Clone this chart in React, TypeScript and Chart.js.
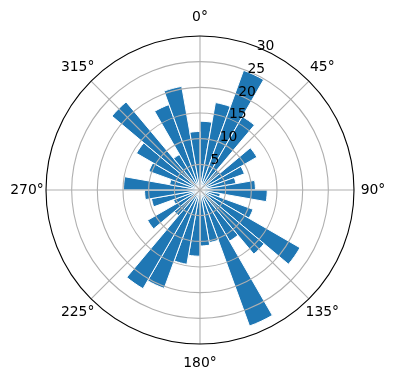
import React, { useEffect, useRef } from "react";
import { Chart, registerables } from "chart.js";

Chart.register(...registerables);

// Bar centre directions (degrees, clockwise from north)
const directions = [
  5, 15, 25, 35, 45, 55, 65, 75, 85,
  95, 105, 115, 125, 135, 145, 155, 165, 175,
  185, 195, 205, 215, 225, 235, 245, 255, 265,
  275, 285, 295, 305, 315, 325, 335, 345, 355,
];
// Bar lengths
const counts = [
  13.4, 17.3, 24.8, 16.5, 5.0, 12.8, 9.2, 7.1, 10.8,
  13.1, 4.0, 11.0, 22.5, 16.3, 11.5, 28.2, 10.4, 10.9,
  12.9, 14.7, 20.4, 22.2, 6.5, 11.8, 5.5, 9.6, 10.8,
  14.9, 6.0, 10.6, 14.3, 22.4, 8.0, 17.7, 20.5, 11.4,
];
const radialTicks = [5, 10, 15, 20, 25, 30];
const angleTickDegrees = [0, 45, 90, 135, 180, 225, 270, 315];
const angleTickLabels = ["0°", "45°", "90°", "135°", "180°", "225°", "270°", "315°"];
const radialLabelAngle = 22.5;

const FONT = '13.9px "DejaVu Sans"';

const polarDecor = {
  id: "polarDecor",
  afterDatasetsDraw(chart: any) {
    const r = chart.scales.r;
    const ctx = chart.ctx;
    const n = chart.data.labels.length;
    const outer = r.getDistanceFromCenterForValue(r.max);
    ctx.save();
    ctx.strokeStyle = "#b0b0b0";
    ctx.lineWidth = 1.1;
    angleTickDegrees.forEach((deg) => {
      const p = r.getPointPosition((deg / 360) * n, outer);
      ctx.beginPath();
      ctx.moveTo(r.xCenter, r.yCenter);
      ctx.lineTo(p.x, p.y);
      ctx.stroke();
    });
    ctx.restore();
  },
  afterDraw(chart: any) {
    const r = chart.scales.r;
    const ctx = chart.ctx;
    const n = chart.data.labels.length;
    const outer = r.getDistanceFromCenterForValue(r.max);
    ctx.save();
    ctx.font = FONT;
    ctx.fillStyle = "#000";
    ctx.textAlign = "center";
    ctx.textBaseline = "middle";
    angleTickDegrees.forEach((deg, i) => {
      const p = r.getPointPosition((deg / 360) * n, outer + 19);
      ctx.fillText(angleTickLabels[i], p.x, p.y);
    });
    ctx.textAlign = "left";
    ctx.textBaseline = "middle";
    radialTicks.forEach((v) => {
      const d = r.getDistanceFromCenterForValue(v);
      const p = r.getPointPosition((radialLabelAngle / 360) * n, d);
      const k = v / r.max;
      ctx.fillText(String(v), p.x + 1.3 - 3.6 * k, p.y - 7.3 + 6.3 * k);
    });
    ctx.restore();
  },
};

export default function App() {
  const ref = useRef<HTMLCanvasElement | null>(null);
  useEffect(() => {
    if (!ref.current) return;
    const chart = new Chart(ref.current, {
      type: "polarArea",
      data: {
        labels: directions.map((d) => d + "°"),
        datasets: [
          {
            data: counts,
            backgroundColor: "#1f77b4",
            borderColor: "#ffffff",
            borderWidth: 1,
          },
        ],
      },
      options: {
        responsive: false,
        animation: false,
        devicePixelRatio: 1,
        layout: { padding: { left: 46, right: 42, top: 36, bottom: 36 } },
        plugins: { legend: { display: false }, tooltip: { enabled: false } },
        scales: {
          r: {
            min: 0,
            max: 30,
            startAngle: 0,
            ticks: { stepSize: 5, display: false },
            grid: {
              z: 1,
              circular: true,
              lineWidth: 1.1,
              color: (c: any) => (c.tick && c.tick.value === 30 ? "#000000" : "#b0b0b0"),
            },
            angleLines: { display: false },
            pointLabels: { display: false },
          },
        },
      },
      plugins: [polarDecor],
    });
    return () => chart.destroy();
  }, []);
  return (
    <div style={{ position: "fixed", left: 0, top: 0, width: 396, height: 380, background: "#fff" }}>
      <canvas ref={ref} width={396} height={380} />
    </div>
  );
}
